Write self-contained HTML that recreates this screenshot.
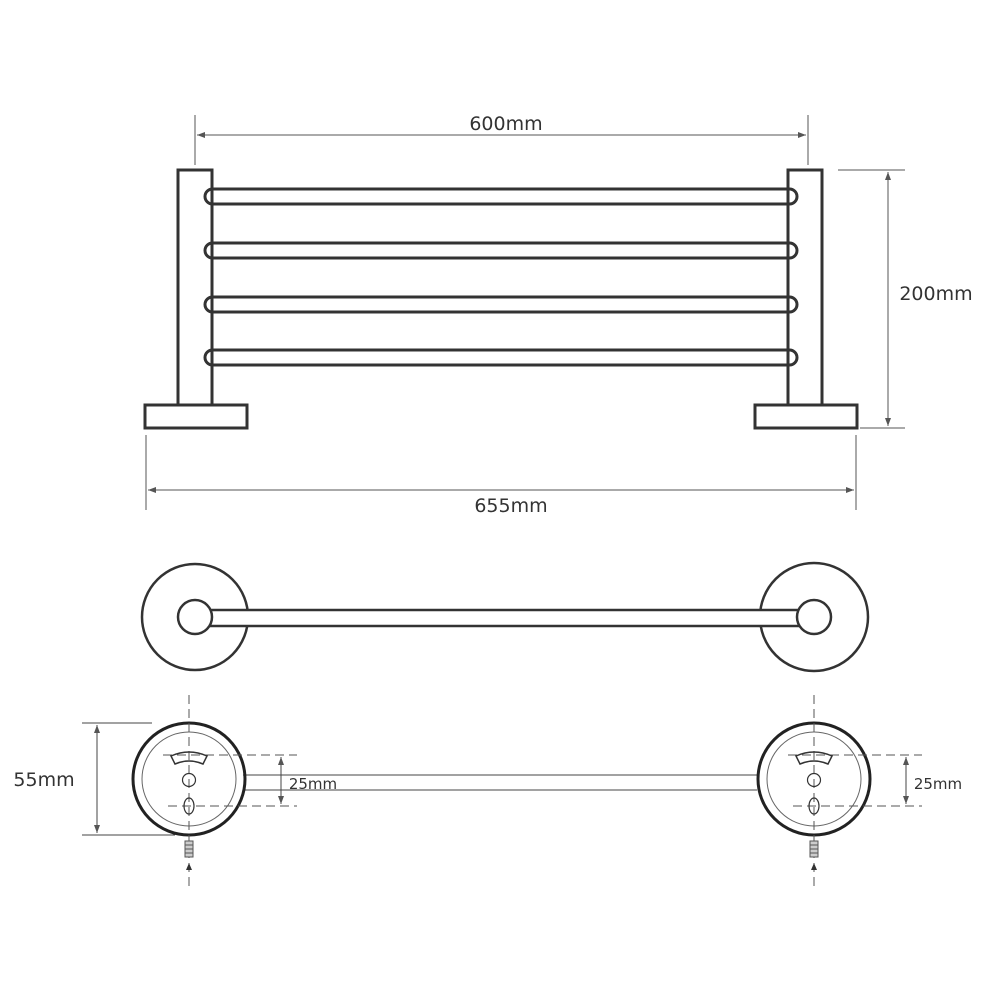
<!DOCTYPE html>
<html><head><style>body{margin:0;background:#fff}svg{display:block}text{font-family:"DejaVu Sans","Liberation Sans",sans-serif;fill:#333}</style></head><body>
<svg width="1000" height="1000" viewBox="0 0 1000 1000">
<defs><marker id="a" markerWidth="8" markerHeight="6" refX="8" refY="3" orient="auto-start-reverse"><path d="M0,0L8,3L0,6z" fill="#555"/></marker></defs>
<g stroke="#555" stroke-width="1" fill="none">
<line x1="195" y1="115" x2="195" y2="165"/><line x1="808" y1="115" x2="808" y2="165"/>
<line x1="197" y1="135" x2="806" y2="135" marker-start="url(#a)" marker-end="url(#a)"/>
<line x1="838" y1="170" x2="905" y2="170"/><line x1="860" y1="428" x2="905" y2="428"/>
<line x1="888" y1="172" x2="888" y2="426" marker-start="url(#a)" marker-end="url(#a)"/>
<line x1="146" y1="435" x2="146" y2="510"/><line x1="856" y1="435" x2="856" y2="510"/>
<line x1="148" y1="490" x2="854" y2="490" marker-start="url(#a)" marker-end="url(#a)"/>
</g>
<text x="506" y="130" font-size="19" text-anchor="middle">600mm</text>
<text x="936" y="300" font-size="19" text-anchor="middle">200mm</text>
<text x="511" y="512" font-size="19" text-anchor="middle">655mm</text>
<g stroke="#333" stroke-width="3" fill="#fff">
<rect x="178" y="170" width="34" height="235"/><rect x="145" y="405" width="102" height="23"/>
<rect x="788" y="170" width="34" height="235"/><rect x="755" y="405" width="102" height="23"/>
<rect x="205" y="189" width="592" height="15" rx="7.5"/>
<rect x="205" y="243" width="592" height="15" rx="7.5"/>
<rect x="205" y="297" width="592" height="15" rx="7.5"/>
<rect x="205" y="350" width="592" height="15" rx="7.5"/>
<line x1="212" y1="180" x2="212" y2="405" /><line x1="788" y1="180" x2="788" y2="405"/>
</g>
<g stroke="#333" stroke-width="2.5" fill="#fff">
<circle cx="195" cy="617" r="53"/><circle cx="814" cy="617" r="54"/>
<rect x="205" y="610" width="600" height="16"/>
<circle cx="195" cy="617" r="17"/><circle cx="814" cy="617" r="17"/>
</g>
<g stroke="#444" stroke-width="1" fill="none">
<line x1="243" y1="775" x2="757" y2="775"/><line x1="243" y1="790" x2="757" y2="790"/>
<line x1="82" y1="723" x2="152" y2="723"/><line x1="82" y1="835" x2="175" y2="835"/>
<line x1="97" y1="725" x2="97" y2="833" marker-start="url(#a)" marker-end="url(#a)"/>
<line x1="281" y1="757" x2="281" y2="804" marker-start="url(#a)" marker-end="url(#a)"/>
<line x1="906" y1="757" x2="906" y2="804" marker-start="url(#a)" marker-end="url(#a)"/>
</g>
<text x="44" y="786" font-size="19" text-anchor="middle">55mm</text>
<text x="313" y="789" font-size="15" text-anchor="middle">25mm</text>
<text x="938" y="789" font-size="15" text-anchor="middle">25mm</text>
<g id="m">
<circle cx="189" cy="779" r="56" stroke="#222" stroke-width="3" fill="none"/>
<circle cx="189" cy="779" r="47" stroke="#666" stroke-width="1" fill="none"/>
<g stroke="#555" stroke-width="1" stroke-dasharray="9,5" fill="none">
<line x1="189" y1="695" x2="189" y2="890"/>
<line x1="163" y1="755" x2="297" y2="755"/><line x1="168" y1="806" x2="297" y2="806"/>
</g>
<path d="M171,756 Q189,748 207,756 L203,764 Q189,758 175,764 Z" stroke="#333" stroke-width="1.5" fill="none"/>
<circle cx="189" cy="780" r="6.5" stroke="#333" stroke-width="1.2" fill="none"/>
<ellipse cx="189" cy="806" rx="5" ry="8" stroke="#333" stroke-width="1.2" fill="none"/>
<rect x="185" y="841" width="8" height="16" stroke="#555" stroke-width="1" fill="#ccc"/>
<path d="M185,845h8M185,849h8M185,853h8" stroke="#555" stroke-width="1"/>
<path d="M189,863l-3,7h6z" fill="#333"/>
</g>
<use href="#m" transform="translate(625,0)"/>
</svg>
</body></html>
